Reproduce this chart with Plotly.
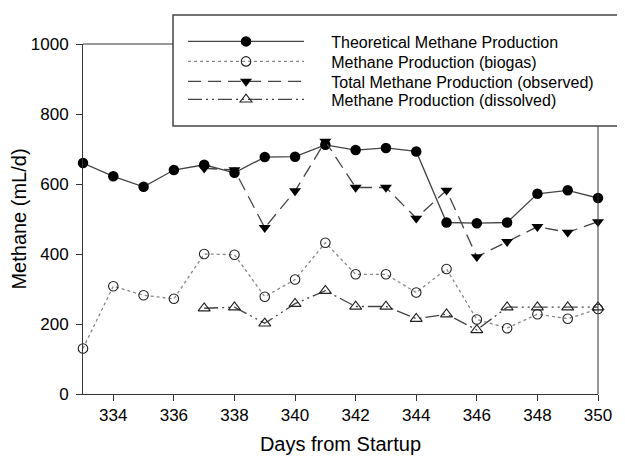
import plotly.graph_objects as go

days = list(range(333, 351))
theoretical = [660, 622, 592, 640, 655, 632, 677, 678, 712, 697, 703, 693, 490, 488, 490, 572, 582, 560]
biogas = [130, 308, 282, 272, 400, 398, 278, 327, 432, 342, 342, 290, 357, 213, 188, 228, 215, 243]
obs_days = list(range(337, 351))
observed = [645, 640, 475, 580, 722, 590, 590, 502, 582, 392, 435, 478, 462, 492]
dissolved = [245, 248, 202, 258, 295, 250, 250, 215, 228, 183, 248, 248, 248, 248]
series_names = ["Theoretical Methane Production", "Methane Production (biogas)",
                "Total Methane Production (observed)", "Methane Production (dissolved)"]

x_ticks = [334, 336, 338, 340, 342, 344, 346, 348, 350]
y_ticks = [0, 200, 400, 600, 800, 1000]

FONT = "Liberation Sans, Arial, sans-serif"
LC = "#444444"
AX = "#333333"
PAD = "&nbsp;" * 5

fig = go.Figure()
fig.add_trace(go.Scatter(
    x=days, y=theoretical, mode="lines+markers", name=PAD + series_names[0],
    line=dict(color=LC, width=1.3), legend="legend",
    marker=dict(symbol="circle", size=10.5, color="black"), cliponaxis=False))
fig.add_trace(go.Scatter(
    x=days, y=biogas, mode="lines+markers", name=PAD + series_names[1],
    line=dict(color="#888888", width=1.3, dash="dot"), legend="legend2",
    marker=dict(symbol="circle-open", size=9.5, color="#222222", line=dict(width=1.1)),
    cliponaxis=False))
fig.add_trace(go.Scatter(
    x=obs_days, y=observed, mode="lines+markers", name=PAD + series_names[2],
    line=dict(color=LC, width=1.3, dash="13px,7px"), legend="legend3",
    marker=dict(symbol="triangle-down", size=10.5, color="black"), cliponaxis=False))
fig.add_trace(go.Scatter(
    x=obs_days, y=dissolved, mode="lines+markers", name=PAD + series_names[3],
    line=dict(color=LC, width=1.3, dash="14px,4px,2px,4px,2px,4px"), legend="legend4",
    marker=dict(symbol="triangle-up-open", size=10.5, color="#222222", line=dict(width=1.1)),
    cliponaxis=False))

box_x0 = 0.1748
box_y0 = 0.7657
box_y1 = 1.0829
leg_x = 0.1942
leg_ys = [1.0557, 0.9986, 0.9414, 0.89]


def leg(yv):
    return dict(x=leg_x, y=yv, xanchor="left", yanchor="top",
                bgcolor="rgba(0,0,0,0)", borderwidth=0,
                font=dict(size=16, family=FONT), itemwidth=116)


fig.update_layout(
    width=617, height=451,
    margin=dict(l=75, r=27, t=36, b=65),
    plot_bgcolor="white", paper_bgcolor="white",
    font=dict(family=FONT, color="black"),
    showlegend=True,
    legend=leg(leg_ys[0]), legend2=leg(leg_ys[1]),
    legend3=leg(leg_ys[2]), legend4=leg(leg_ys[3]),
    xaxis=dict(range=[333, 350], tickvals=x_ticks, ticktext=[str(v) for v in x_ticks],
               showgrid=False, zeroline=False, showline=True, linecolor=AX, linewidth=1,
               ticks="outside", ticklen=6, tickcolor=AX, tickfont=dict(size=17),
               automargin=False,
               title=dict(text="Days from Startup", font=dict(size=20), standoff=12)),
    yaxis=dict(range=[0, 1000], tickvals=y_ticks, ticktext=[str(v) for v in y_ticks],
               showgrid=False, zeroline=False, showline=True, linecolor=AX, linewidth=1,
               ticks="outside", ticklen=6, tickcolor=AX, tickfont=dict(size=17),
               ticklabelstandoff=4, automargin=False,
               title=dict(text="Methane (mL/d)", font=dict(size=20), standoff=2)),
    shapes=[
        dict(type="rect", xref="paper", yref="paper", x0=box_x0, x1=1.2,
             y0=box_y0, y1=box_y1, line=dict(color="#444444", width=1.5),
             fillcolor="rgba(0,0,0,0)", layer="above"),
        dict(type="line", xref="paper", yref="paper", x0=0, x1=box_x0, y0=1, y1=1,
             line=dict(color=AX, width=1)),
        dict(type="line", xref="paper", yref="paper", x0=1, x1=1, y0=0, y1=box_y0,
             line=dict(color=AX, width=1)),
    ],
)

fig.write_html("out.html")
